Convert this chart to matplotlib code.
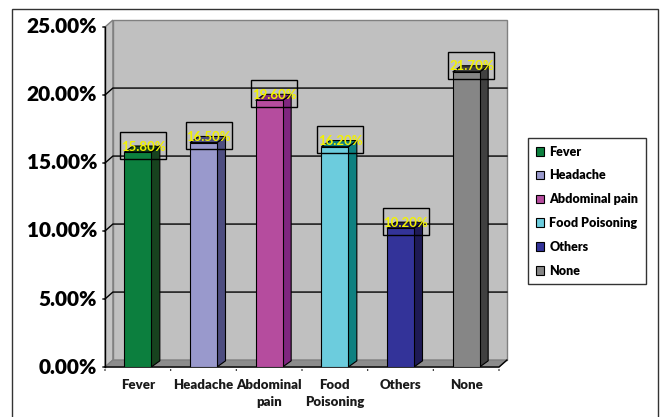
import numpy as np
import matplotlib
matplotlib.use('Agg')
import matplotlib.pyplot as plt
from matplotlib.patches import Polygon, Rectangle, Patch

plt.rcParams['font.family'] = ['Lato', 'DejaVu Sans']
plt.rcParams['font.weight'] = 'bold'

categories = ['Fever', 'Headache', 'Abdominal pain', 'Food Poisoning', 'Others', 'None']
tick_labels = ['Fever', 'Headache', 'Abdominal\npain', 'Food\nPoisoning', 'Others', 'None']
values = [15.8, 16.5, 19.6, 16.2, 10.2, 21.7]
front_colors = ['#0C7F3E', '#9999CC', '#B54C9E', '#6CCCDD', '#333399', '#868686']
side_colors = ['#17421E', '#4D4D80', '#7F2680', '#0E8080', '#1E1A55', '#404040']
yticks = [0, 5, 10, 15, 20, 25]

# depth of the fake 3d walls and bars (data units)
dx, dy = 0.12, 0.51
bdx, bdy = 0.13, 0.45
bw = 0.41

fig = plt.figure(figsize=(6.63, 4.17), dpi=100)
ax = fig.add_axes([105 / 663, 50 / 417, 394 / 663, 340 / 417])
ax.set_xlim(0, 6)
ax.set_ylim(0, 25)
ax.axis('off')

n = len(categories)
top = yticks[-1]

# walls and floor
ax.add_patch(Polygon([(dx, dy), (n + dx, dy), (n + dx, top + dy), (dx, top + dy)],
                     closed=True, fc='#C0C0C0', ec='#808080', lw=1, clip_on=False, zorder=1))
ax.add_patch(Polygon([(0, 0), (dx, dy), (dx, top + dy), (0, top)],
                     closed=True, fc='#C4C4C4', ec='#808080', lw=1, clip_on=False, zorder=1))
ax.add_patch(Polygon([(0, 0), (n, 0), (n + dx, dy), (dx, dy)],
                     closed=True, fc='#8C8C8C', ec='#808080', lw=1, clip_on=False, zorder=1))

# gridlines on the back wall
for t in yticks[1:-1]:
    ax.plot([0, dx, n + dx], [t, t + dy, t + dy], color='black', lw=1, clip_on=False, zorder=2)

# axes lines and ticks
ax.plot([0, 0], [0, top], color='black', lw=1, clip_on=False, zorder=3)
ax.plot([0, n, n + dx], [0, 0, dy], color='black', lw=1, clip_on=False, zorder=3)
for t in yticks:
    ax.annotate('', xy=(0, t), xytext=(-5, 0), textcoords='offset pixels',
                xycoords='data', arrowprops=dict(arrowstyle='-', lw=1, color='black'))
    ax.annotate(f'{t:.2f}%', xy=(0, t), xytext=(-8, 0), textcoords='offset pixels',
                ha='right', va='center', fontsize=15, fontweight='heavy')
for i in range(n + 1):
    ax.annotate('', xy=(i, 0), xytext=(0, -6), textcoords='offset pixels',
                arrowprops=dict(arrowstyle='-', lw=1, color='black'))
for i, lab in enumerate(tick_labels):
    ax.annotate(lab, xy=(i + 0.5, 0), xytext=(0, -12), textcoords='offset pixels',
                ha='center', va='top', fontsize=9.5, fontweight='heavy', linespacing=1.45,
                color='#1a1a1a')

# bars
for i, (v, fc, sc) in enumerate(zip(values, front_colors, side_colors)):
    x0 = i + 0.5 - bw / 2
    x1 = x0 + bw
    ax.add_patch(Polygon([(x1, 0), (x1 + bdx, bdy), (x1 + bdx, v + bdy), (x1, v)],
                         closed=True, fc=sc, ec='black', lw=0.8, zorder=4))
    ax.add_patch(Polygon([(x0, v), (x1, v), (x1 + bdx, v + bdy), (x0 + bdx, v + bdy)],
                         closed=True, fc=sc, ec='black', lw=0.8, zorder=4))
    ax.add_patch(Rectangle((x0, 0), bw, v, fc=fc, ec='black', lw=0.8, zorder=5))
    # data label with box
    cx, cy = i + 0.58, v + 0.5
    ax.add_patch(Rectangle((cx - 0.35, cy - 0.99), 0.70, 1.98, fill=False,
                           ec='black', lw=1, zorder=6, clip_on=False))
    ax.text(cx, cy - 0.1, f'{v:.2f}%', ha='center', va='center', fontsize=9.5,
            fontweight='bold', color='#F2F200', zorder=7)

# legend
handles = [Patch(fc=c, ec='black', lw=0.8) for c in front_colors]
leg = fig.legend(handles, categories, loc='upper left', bbox_to_anchor=(528 / 663, 1 - 138 / 417),
                 frameon=True, fancybox=False, edgecolor='black', fontsize=9,
                 handlelength=0.7, handleheight=0.7, handletextpad=0.4,
                 labelspacing=0.95, borderpad=0.6, borderaxespad=0)
leg.get_frame().set_linewidth(1)
for t in leg.get_texts():
    t.set_fontweight('heavy')

# outer frame
fig.add_artist(Rectangle((12 / 663, -0.1), (657.5 - 12) / 663, 1.1 - 9 / 417,
                         transform=fig.transFigure, fill=False, ec='#333333', lw=1))

fig.savefig('out.png', dpi=100)
plt.close(fig)
